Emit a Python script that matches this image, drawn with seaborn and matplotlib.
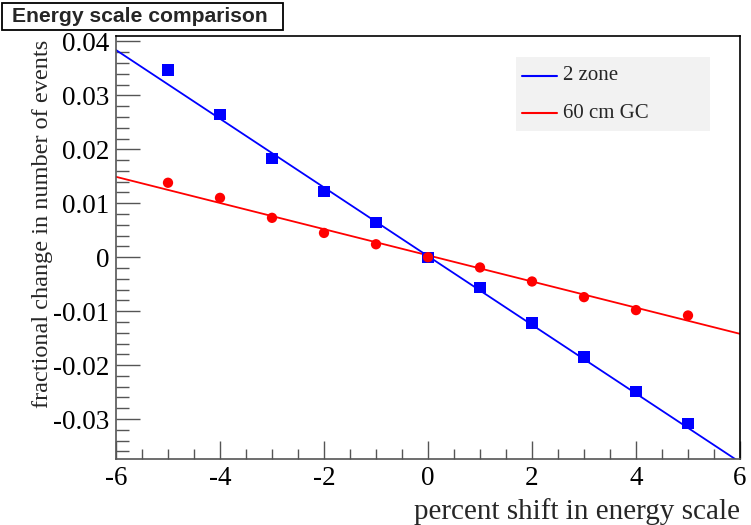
import matplotlib
matplotlib.use("Agg")
import matplotlib.pyplot as plt
from matplotlib.ticker import MultipleLocator
from matplotlib.patches import Rectangle
import seaborn as sns
import pandas as pd

# data
shift = [-5, -4, -3, -2, -1, 0, 1, 2, 3, 4, 5]
zone2 = [0.0347, 0.0265, 0.0183, 0.0122, 0.0064, 0.0, -0.0056, -0.0122, -0.0185, -0.0249, -0.0309]
gc60 = [0.0138, 0.0110, 0.0073, 0.0045, 0.0024, 0.0, -0.0019, -0.0045, -0.0074, -0.0098, -0.0108]
fit_x = [-6, 6]
fit_zone2 = [0.0384, -0.0380]
fit_gc60 = [0.0149, -0.0142]
series_names = ["2 zone", "60 cm GC"]

sns.set_theme(style="white")
plt.rcParams["font.family"] = ["Liberation Serif", "DejaVu Serif"]

fig = plt.figure(figsize=(7.51, 5.25), dpi=100)
ax = fig.add_axes([116/751, 1 - 459/525, (740-116)/751, (459-36)/525])

pts = pd.DataFrame({"x": shift * 2, "y": zone2 + gc60,
                    "s": [series_names[0]] * len(shift) + [series_names[1]] * len(shift)})
fits = pd.DataFrame({"x": fit_x * 2, "y": fit_zone2 + fit_gc60,
                     "s": [series_names[0]] * 2 + [series_names[1]] * 2})
pal = {series_names[0]: "#0000ff", series_names[1]: "#ff0000"}

sns.lineplot(data=fits, x="x", y="y", hue="s", palette=pal, ax=ax, lw=1.3, legend=False)
sns.scatterplot(data=pts[pts.s == series_names[0]], x="x", y="y", color="#0000ff",
                marker="s", s=64, edgecolor="none", ax=ax, legend=False, zorder=3)
sns.scatterplot(data=pts[pts.s == series_names[1]], x="x", y="y", color="#ff0000",
                marker="o", s=55, edgecolor="none", ax=ax, legend=False, zorder=3)

ax.set_xlim(-6, 6)
ax.set_ylim(-0.0374, 0.0410)
ax.xaxis.set_major_locator(MultipleLocator(2))
ax.xaxis.set_minor_locator(MultipleLocator(0.5))
ax.yaxis.set_major_locator(MultipleLocator(0.01))
ax.yaxis.set_minor_locator(MultipleLocator(0.002))
ax.xaxis.set_major_formatter(matplotlib.ticker.FuncFormatter(lambda v, p: f"{v:g}"))
ax.yaxis.set_major_formatter(matplotlib.ticker.FuncFormatter(lambda v, p: "0" if abs(v) < 1e-9 else f"{v:.2f}"))
ax.tick_params(axis="both", which="both", direction="in", colors="#555555",
               labelcolor="black", labelsize=19.5, top=False, right=False,
               bottom=True, left=True, width=1)
ax.tick_params(axis="y", which="major", length=17, pad=5)
ax.tick_params(axis="y", which="minor", length=9)
ax.tick_params(axis="x", which="major", length=13, pad=5)
ax.tick_params(axis="x", which="minor", length=7)
for sp in ax.spines.values():
    sp.set_color("#555555")
    sp.set_linewidth(1.2)
    sp.set_visible(True)
ax.spines["top"].set_color("black")
ax.spines["right"].set_color("black")

ax.set_xlabel("percent shift in energy scale", fontsize=21, ha="right", x=1.0, labelpad=5)
ax.set_ylabel("fractional change in number of events", fontsize=17.5, ha="right", y=0.99, labelpad=0)

# legend
leg_ax_box = Rectangle((516/751, 1 - 131/525), (710-516)/751, (131-57)/525,
                       transform=fig.transFigure, facecolor="#f2f2f2", edgecolor="none", zorder=5)
fig.patches.append(leg_ax_box)
for i, (name, col) in enumerate(zip(series_names, ["#0000ff", "#ff0000"])):
    yy = 1 - (76 + i * 37) / 525
    fig.add_artist(plt.Line2D([522/751, 557/751], [yy, yy], transform=fig.transFigure,
                              color=col, lw=1.5, zorder=6))
    fig.text(563/751, yy, name, fontsize=15, va="center", ha="left", zorder=6)

title_box = Rectangle((2/751, 1 - 30/525), (283-2)/751, (30-3)/525, transform=fig.transFigure,
                      facecolor="white", edgecolor="black", lw=1.3, zorder=5)
fig.patches.append(title_box)
fig.text(12/751, 1 - 17/525, "Energy scale comparison", fontsize=15.2, fontweight="bold",
         family=["Liberation Sans", "DejaVu Sans"], va="center", ha="left", zorder=6)

fig.savefig("out.png", dpi=100)
